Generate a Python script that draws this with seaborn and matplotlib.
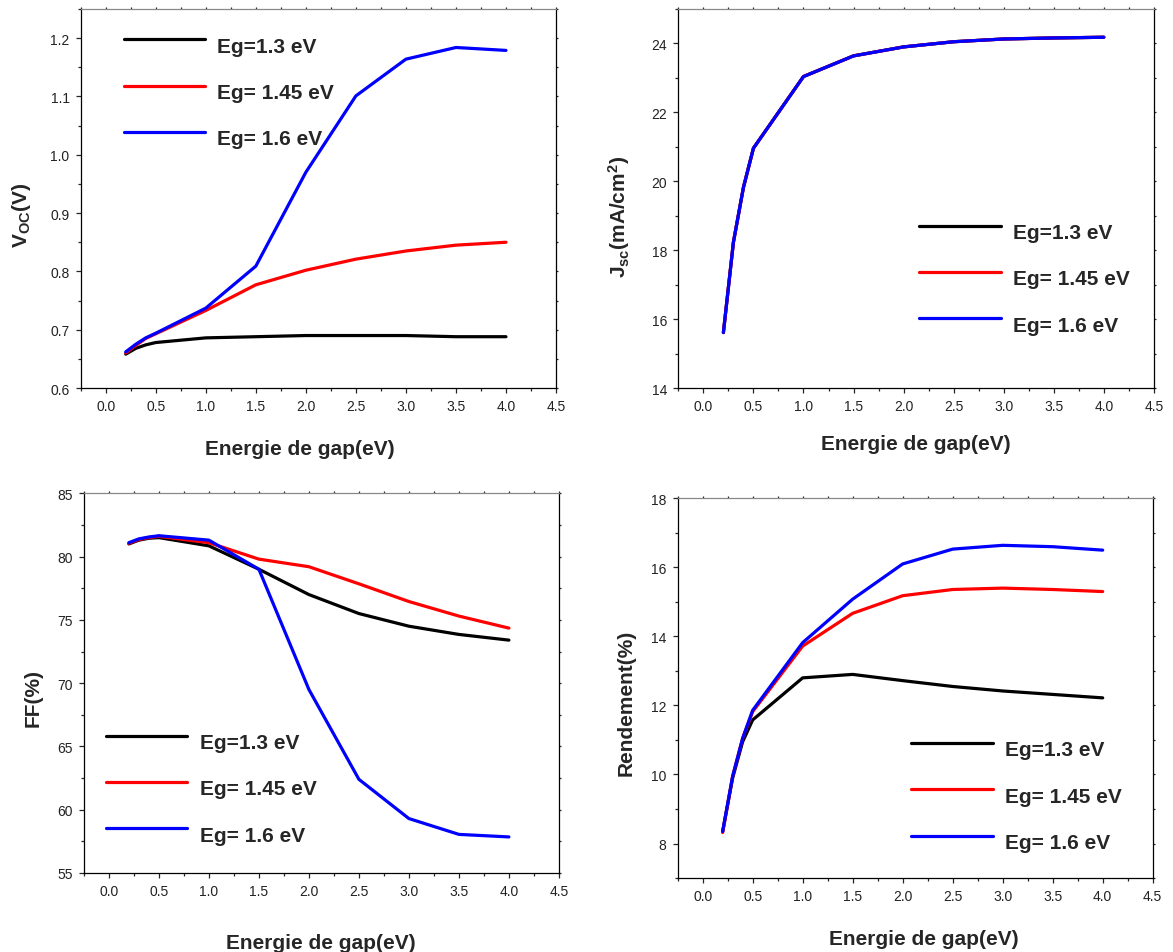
import pandas as pd
import matplotlib
matplotlib.use('Agg')
import matplotlib.pyplot as plt
import seaborn as sns
from matplotlib.ticker import MultipleLocator, FormatStrFormatter

# Energie de gap (eV) - x values common to every panel
energie = [0.2, 0.3, 0.4, 0.5, 1.0, 1.5, 2.0, 2.5, 3.0, 3.5, 4.0]
series = ['Eg=1.3 eV', 'Eg= 1.45 eV', 'Eg= 1.6 eV']
colors = ['#000000', '#ff0000', '#0000ff']

# Voc (V)
voc_13 = [0.658, 0.668, 0.674, 0.678, 0.686, 0.688, 0.690, 0.690, 0.690, 0.688, 0.688]
voc_145 = [0.660, 0.673, 0.685, 0.693, 0.733, 0.777, 0.802, 0.821, 0.835, 0.845, 0.850]
voc_16 = [0.662, 0.675, 0.686, 0.694, 0.737, 0.809, 0.970, 1.101, 1.164, 1.184, 1.179]

# Jsc (mA/cm2)
jsc_13 = [15.61, 18.23, 19.82, 20.96, 23.04, 23.64, 23.90, 24.05, 24.13, 24.16, 24.18]
jsc_145 = [15.61, 18.23, 19.82, 20.96, 23.04, 23.64, 23.90, 24.05, 24.13, 24.16, 24.18]
jsc_16 = [15.61, 18.23, 19.82, 20.96, 23.04, 23.64, 23.90, 24.05, 24.13, 24.16, 24.18]

# FF (%)
ff_13 = [81.0, 81.3, 81.45, 81.5, 80.85, 79.0, 77.0, 75.5, 74.5, 73.85, 73.4]
ff_145 = [81.05, 81.35, 81.5, 81.6, 81.1, 79.8, 79.2, 77.85, 76.45, 75.3, 74.35]
ff_16 = [81.1, 81.4, 81.55, 81.65, 81.3, 79.0, 69.5, 62.4, 59.3, 58.05, 57.85]

# Rendement (%)
eff_13 = [8.35, 9.9, 10.95, 11.58, 12.8, 12.9, 12.72, 12.55, 12.42, 12.32, 12.22]
eff_145 = [8.32, 9.95, 11.05, 11.82, 13.72, 14.67, 15.18, 15.36, 15.4, 15.36, 15.3]
eff_16 = [8.35, 9.95, 11.05, 11.86, 13.82, 15.08, 16.1, 16.53, 16.64, 16.6, 16.5]

sns.set_style('ticks')
plt.rcParams['font.family'] = ['Liberation Sans', 'DejaVu Sans']
plt.rcParams['mathtext.fontset'] = 'custom'
plt.rcParams['mathtext.rm'] = 'Liberation Sans'
plt.rcParams['mathtext.bf'] = 'Liberation Sans:bold'
plt.rcParams['mathtext.it'] = 'Liberation Sans:italic'

fig = plt.figure(figsize=(11.73, 9.53), dpi=100)


def panel(rect, s13, s145, s16, ylim, major, minor, ylabel, leg_xy, ylab_xy, xlab_xy):
    ax = fig.add_axes(rect)
    df = pd.DataFrame({
        'x': energie * 3,
        'y': s13 + s145 + s16,
        'serie': [series[0]] * len(energie) + [series[1]] * len(energie) + [series[2]] * len(energie),
    })
    sns.lineplot(data=df, x='x', y='y', hue='serie', hue_order=series,
                 palette=dict(zip(series, colors)), estimator=None,
                 linewidth=2.3, ax=ax)
    ax.set_xlim(-0.25, 4.5)
    ax.set_ylim(*ylim)
    ax.xaxis.set_major_locator(MultipleLocator(0.5))
    ax.xaxis.set_minor_locator(MultipleLocator(0.25))
    ax.yaxis.set_major_locator(MultipleLocator(major))
    ax.yaxis.set_minor_locator(MultipleLocator(minor))
    ax.xaxis.set_major_formatter(FormatStrFormatter('%.1f'))
    ax.yaxis.set_major_formatter(FormatStrFormatter('%.1f' if major < 1 else '%d'))
    ax.tick_params(which='major', direction='out', length=3.5, width=0.9,
                   labelsize=10, labelcolor='#222222', pad=4.5,
                   top=True, right=True)
    ax.tick_params(which='minor', direction='out', length=2.2, width=0.9,
                   top=True, right=True)
    # tiny marks on the top / right frame
    for axis in (ax.xaxis, ax.yaxis):
        for t in axis.get_major_ticks() + axis.get_minor_ticks():
            t.tick2line.set_markersize(1.5)
    for s in ['left', 'bottom', 'right']:
        ax.spines[s].set_color('black')
        ax.spines[s].set_linewidth(0.9)
    ax.spines['top'].set_color('#888888')
    ax.spines['top'].set_linewidth(0.9)

    ax.set_xlabel('Energie de gap(eV)', fontsize=15, fontweight='bold')
    ax.set_ylabel(ylabel, fontsize=15, fontweight='bold')
    ax.yaxis.set_label_coords(*ylab_xy)
    ax.xaxis.set_label_coords(*xlab_xy)

    h, l = ax.get_legend_handles_labels()
    for hh in h:
        hh.set_linewidth(2.3)
    leg = ax.legend(h, l, loc='center left', bbox_to_anchor=leg_xy, frameon=False,
                    prop={'weight': 'bold', 'size': 15}, handlelength=3.9,
                    handletextpad=0.58, labelspacing=1.31, borderpad=0, borderaxespad=0)
    for t in leg.get_texts():
        t.set_y(-5)
    return ax


panel([0.0688, 0.5918, 0.4052, 0.3977], voc_13, voc_145, voc_16, (0.6, 1.25), 0.1, 0.05,
      r'$\mathbf{V_{OC}(V)}$', (0.091, 0.793), (-0.100, 0.459), (0.46, -0.135))
panel([0.5783, 0.5918, 0.4054, 0.3977], jsc_13, jsc_145, jsc_16, (14, 25), 2, 1,
      r'$\mathbf{J_{sc}(mA/cm^2)}$', (0.507, 0.301), (-0.098, 0.455), (0.499, -0.121))
panel([0.0715, 0.0829, 0.4050, 0.3984], ff_13, ff_145, ff_16, (55, 85), 5, 2.5,
      'FF(%)', (0.047, 0.235), (-0.086, 0.463), (0.499, -0.158))
panel([0.5777, 0.0776, 0.4050, 0.3984], eff_13, eff_145, eff_16, (7, 18), 2, 1,
      'Rendement(%)', (0.492, 0.229), (-0.088, 0.464), (0.519, -0.134))

fig.savefig('out.png', dpi=100)
